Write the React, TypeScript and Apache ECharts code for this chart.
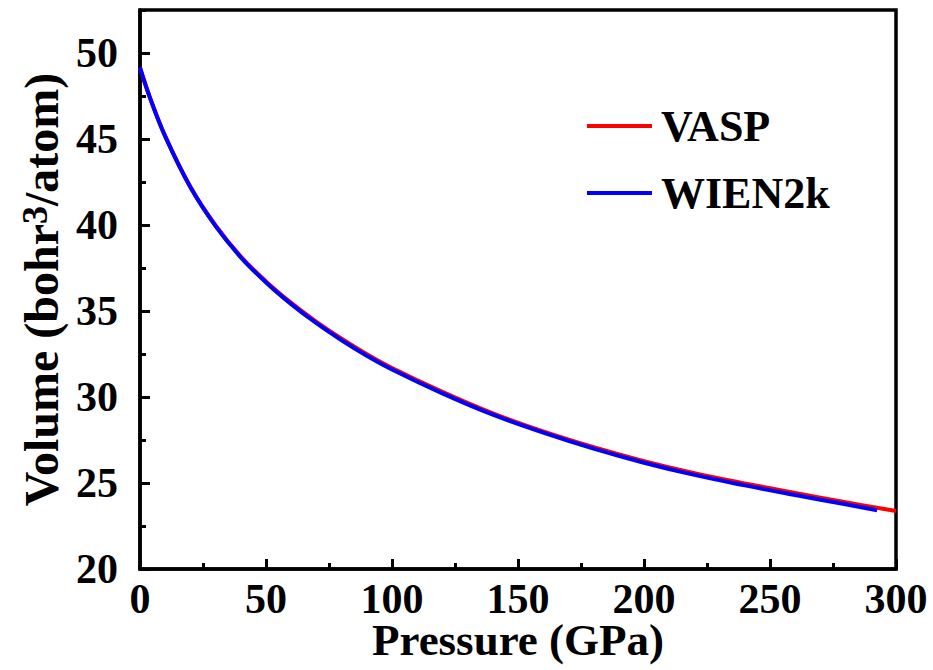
import React, { useEffect, useRef } from "react";
import * as echarts from "echarts";

// VASP equation-of-state curve (pressure in GPa, volume in bohr^3/atom)
const pressureVasp = [0, 4, 10, 20, 30, 40, 50, 60, 70, 80, 90, 100, 120, 140, 160, 180, 200, 220, 240, 260, 280, 300];
const volumeVasp = [49.15, 47.39, 45.17, 42.22, 39.97, 38.17, 36.72, 35.47, 34.37, 33.39, 32.49, 31.69, 30.3, 29.05, 28.0, 27.08, 26.27, 25.57, 24.98, 24.42, 23.88, 23.37];

// WIEN2k equation-of-state curve
const pressureWien = [0, 4, 10, 20, 30, 40, 50, 60, 70, 80, 90, 100, 120, 140, 160, 180, 200, 220, 240, 260, 280, 292.5];
const volumeWien = [49.15, 47.38, 45.15, 42.19, 39.93, 38.12, 36.66, 35.4, 34.29, 33.3, 32.4, 31.6, 30.21, 28.97, 27.93, 27.0, 26.18, 25.47, 24.86, 24.3, 23.76, 23.42];

const seriesNames = ["VASP", "WIEN2k"];
const xTitle = "Pressure (GPa)";

const FONT = '"Times New Roman", "Liberation Serif", "DejaVu Serif", serif';

export default function App() {
  const ref = useRef<HTMLDivElement>(null);

  useEffect(() => {
    if (!ref.current) return;
    const chart = echarts.init(ref.current, undefined, { renderer: "svg" });
    const vasp = pressureVasp.map((p, i) => [p, volumeVasp[i]]);
    const wien = pressureWien.map((p, i) => [p, volumeWien[i]]);

    chart.setOption({
      animation: false,
      backgroundColor: "#ffffff",
      grid: {
        left: 140,
        right: 37,
        top: 10,
        bottom: 101,
        outerBoundsMode: "none",
        containLabel: false,
        show: true,
        borderColor: "#000",
        borderWidth: 3.5,
        backgroundColor: "transparent",
      },
      legend: {
        orient: "vertical",
        left: 582,
        top: 99,
        itemWidth: 65,
        itemHeight: 4,
        itemGap: 23,
        icon: "rect",
        data: seriesNames,
        textStyle: {
          fontFamily: FONT,
          fontWeight: "bold",
          fontSize: 44,
          color: "#000",
          lineHeight: 44,
          padding: [0, 0, 0, 4],
        },
      },
      xAxis: {
        type: "value",
        min: 0,
        max: 300,
        interval: 50,
        name: xTitle,
        nameLocation: "middle",
        nameGap: 50,
        nameMoveOverlap: false,
        nameTextStyle: {
          fontFamily: FONT,
          fontWeight: "bold",
          fontSize: 45,
          lineHeight: 42,
          color: "#000",
        },
        axisLine: { show: true, lineStyle: { color: "#000", width: 3.5 } },
        axisTick: { show: true, inside: true, length: 10, lineStyle: { color: "#000", width: 3 } },
        minorTick: { show: true, splitNumber: 2, length: 6, lineStyle: { color: "#000", width: 3 } },
        splitLine: { show: false },
        axisLabel: {
          fontFamily: FONT,
          fontWeight: "bold",
          fontSize: 42,
          lineHeight: 38,
          color: "#000",
          margin: 11,
        },
      },
      yAxis: [
        {
          type: "value",
          min: 20,
          max: 52.5,
          interval: 5,
          name: "{t|Volume (bohr}{s|3}{t|/atom)}",
          nameLocation: "middle",
          nameGap: 74,
          nameRotate: 90,
          nameTextStyle: {
            color: "#000",
            rich: {
              t: { fontFamily: FONT, fontWeight: "bold", fontSize: 48, color: "#000" },
              s: { fontFamily: FONT, fontWeight: "bold", fontSize: 36, color: "#000", verticalAlign: "top" },
            },
          },
          axisLine: { show: true, lineStyle: { color: "#000", width: 3.5 } },
          axisTick: { show: true, inside: true, length: 10, lineStyle: { color: "#000", width: 3 } },
          splitLine: { show: false },
          axisLabel: {
            fontFamily: FONT,
            fontWeight: "bold",
            fontSize: 42,
            color: "#000",
            margin: 22,
            showMaxLabel: false,
            formatter: (v: number) => (v % 5 === 0 ? String(v) : ""),
          },
        },
        {
          type: "value",
          min: 20,
          max: 52.5,
          interval: 2.5,
          position: "left",
          axisLine: { show: false },
          axisTick: { show: true, inside: true, length: 6, lineStyle: { color: "#000", width: 3 } },
          splitLine: { show: false },
          axisLabel: { show: false },
        },
      ],
      series: [
        {
          name: seriesNames[0],
          type: "line",
          data: vasp,
          yAxisIndex: 0,
          symbol: "none",
          smooth: 0.4,
          color: "#ff0000",
          lineStyle: { color: "#ff0000", width: 4 },
          z: 2,
        },
        {
          name: seriesNames[1],
          type: "line",
          data: wien,
          yAxisIndex: 0,
          symbol: "none",
          smooth: 0.4,
          color: "#0000ff",
          lineStyle: { color: "#0000ff", width: 4 },
          z: 3,
        },
      ],
    });
    return () => chart.dispose();
  }, []);

  return (
    <div
      ref={ref}
      style={{ position: "fixed", left: 0, top: 0, width: 933, height: 670, background: "#fff" }}
    />
  );
}
